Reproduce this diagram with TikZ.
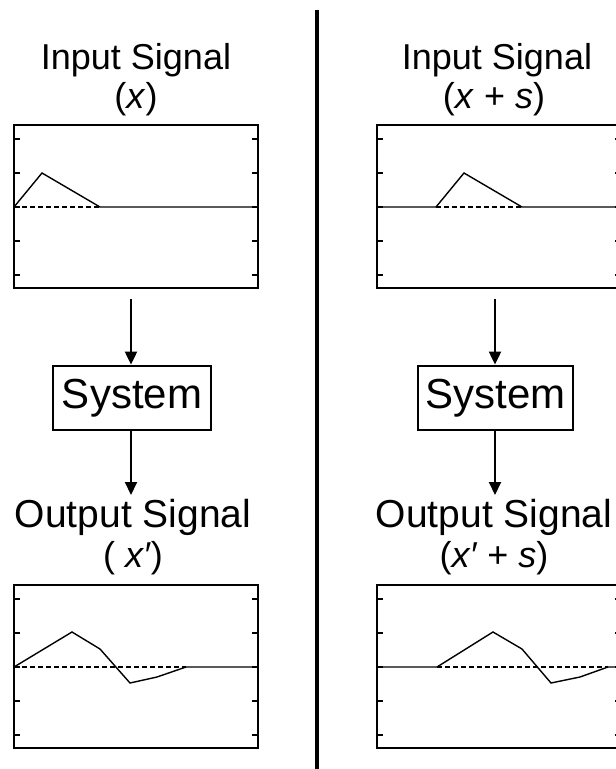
\documentclass[tikz,border=0pt]{standalone}
\usepackage{fontspec}
\setmainfont{Liberation Sans}
\usetikzlibrary{arrows.meta}
\begin{document}
\begin{tikzpicture}[x=1pt,y=-1pt,
  frame/.style={line width=2.8pt},
  tickmark/.style={line width=1.8pt},
  sig/.style={line width=1.4pt, line join=miter},
  zeroline/.style={line width=1.4pt, dash pattern=on 5pt off 3pt},
  title/.style={font=\fontsize{36}{40}\selectfont, inner sep=0pt},
  bigtitle/.style={font=\fontsize{39}{43}\selectfont, inner sep=0pt},
  sysbox/.style={draw, line width=2.8pt, font=\fontsize{42}{46}\selectfont, minimum width=158pt, minimum height=64pt, inner sep=0pt},
  flow/.style={line width=2pt, -{Triangle[length=13pt,width=12pt]}},
  divider/.style={line width=4.5pt}
]
\clip (0,0) rectangle (616,769);
\fill[white] (0,0) rectangle (616,769);

% divider
\coordinate (dtop) at (317,10);
\coordinate (dbot) at (317,769);
\draw[divider] (dtop) -- (dbot);

% titles
\node[title] (inL)  at (136,60) {Input Signal};
\node[title] (inLx) at (136,99) {(\textit{x})};
\node[title] (inR)  at (497,60) {Input Signal};
\node[title] (inRx) at (494,99) {(\textit{x} + \textit{s})};

\node[bigtitle] (outL)  at (133,517) {Output Signal};
\node[title] (outLx) at (133,558) {( \textit{x′})};
\node[bigtitle] (outR)  at (494,517) {Output Signal};
\node[title] (outRx) at (494,558) {(\textit{x′} + \textit{s})};

% plot frames
\foreach \x/\w in {14/244, 377/244}{
  \foreach \y in {125, 585}{
    \draw[frame] (\x,\y) rectangle ++(\w,163);
    \foreach \t in {14,48,82,116,150}{
      \draw[tickmark] (\x,\y+\t) -- ++(6,0);
      \draw[tickmark] (\x+\w,\y+\t) -- ++(-6,0);
    }
  }
}

% top-left signal
\draw[zeroline] (14,207) -- (100,207);
\draw[sig] (14,207) -- (42,173) -- (100,207) -- (258,207);
% top-right signal
\draw[zeroline] (436,207) -- (522,207);
\draw[sig] (377,207) -- (436,207) -- (464,173) -- (522,207) -- (621,207);
% bottom-left signal
\draw[zeroline] (14,667) -- (186,667);
\draw[sig] (14,667) -- (72,632) -- (100,649) -- (130,683) -- (157,677) -- (186,667) -- (258,667);
% bottom-right signal
\draw[zeroline] (437,667) -- (608,667);
\draw[sig] (377,667) -- (437,667) -- (493,632) -- (522,649) -- (551,683) -- (580,677) -- (608,667) -- (621,667);

% system boxes
\node[sysbox] (sysL) at (132,398) {System};
\node[sysbox, minimum width=155pt] (sysR) at (495.5,398) {System};

% arrows
\coordinate (aL1) at (131,299);
\coordinate (aL2) at (131,495);
\coordinate (aR1) at (495,299);
\coordinate (aR2) at (495,495);
\draw[flow] (aL1) -- (aL1 |- sysL.north);
\draw[flow] (aL1 |- sysL.south) -- (aL2);
\draw[flow] (aR1) -- (aR1 |- sysR.north);
\draw[flow] (aR1 |- sysR.south) -- (aR2);
\end{tikzpicture}
\end{document}
